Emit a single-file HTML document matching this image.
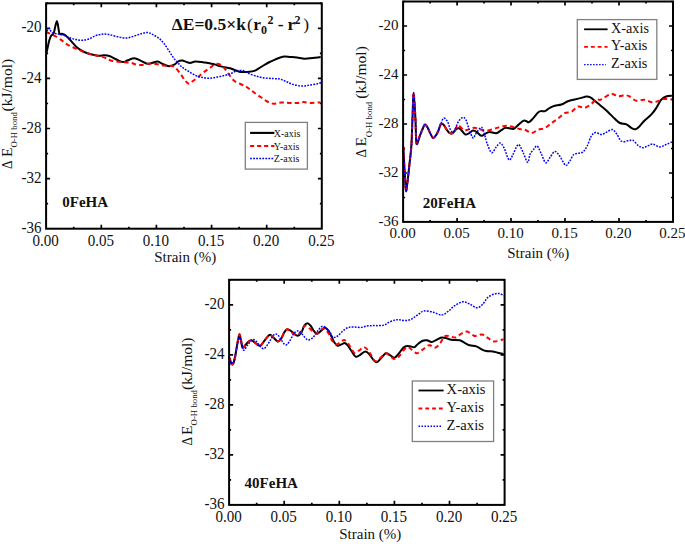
<!DOCTYPE html>
<html><head><meta charset="utf-8"><style>
html,body{margin:0;padding:0;background:#fff;}
svg{display:block;}
text{font-family:"Liberation Serif", serif;fill:#111;}
</style></head><body>
<svg width="685" height="544" viewBox="0 0 685 544" font-size="14">
<rect width="685" height="544" fill="#fff"/>
<path d="M73.7,228.7v-2.0M73.7,3.3v2.0M101.3,228.7v-4.0M101.3,3.3v4.0M128.9,228.7v-2.0M128.9,3.3v2.0M156.4,228.7v-4.0M156.4,3.3v4.0M184.0,228.7v-2.0M184.0,3.3v2.0M211.6,228.7v-4.0M211.6,3.3v4.0M239.1,228.7v-2.0M239.1,3.3v2.0M266.7,228.7v-4.0M266.7,3.3v4.0M294.3,228.7v-2.0M294.3,3.3v2.0M46.1,203.7h2.0M321.9,203.7h-2.0M46.1,178.6h4.0M321.9,178.6h-4.0M46.1,153.6h2.0M321.9,153.6h-2.0M46.1,128.5h4.0M321.9,128.5h-4.0M46.1,103.5h2.0M321.9,103.5h-2.0M46.1,78.4h4.0M321.9,78.4h-4.0M46.1,53.4h2.0M321.9,53.4h-2.0M46.1,28.3h4.0M321.9,28.3h-4.0M46.1,3.3h2.0M321.9,3.3h-2.0" stroke="#000" stroke-width="1.7" fill="none"/>
<path d="M46.6,52.5 C47.0,50.6 48.4,43.7 49.1,40.9 C49.9,38.1 50.3,37.0 51.1,35.7 C51.9,34.4 52.7,35.7 53.7,33.2 C54.7,30.7 56.0,20.9 56.9,20.9 C57.8,20.9 58.5,31.1 59.4,33.2 C60.2,35.4 60.9,33.4 62.0,33.8 C63.1,34.2 64.4,34.5 65.9,35.7 C67.4,36.9 69.3,39.1 71.0,40.9 C72.7,42.7 74.3,45.0 76.2,46.7 C78.1,48.4 80.5,50.0 82.6,51.2 C84.7,52.4 86.4,53.0 89.0,53.8 C91.6,54.5 95.4,55.5 98.0,55.7 C100.6,56.0 102.5,55.2 104.5,55.3 C106.5,55.4 108.0,55.6 110.0,56.3 C112.0,57.0 114.2,58.5 116.4,59.5 C118.6,60.5 121.0,62.0 122.9,62.1 C124.8,62.2 126.1,60.8 128.0,60.2 C129.9,59.6 132.2,58.2 134.4,58.3 C136.6,58.4 138.8,59.9 140.9,60.8 C143.1,61.7 145.4,63.5 147.3,63.8 C149.2,64.1 150.8,63.2 152.5,62.8 C154.2,62.4 155.9,61.3 157.6,61.5 C159.3,61.7 160.9,63.2 162.8,64.0 C164.7,64.8 167.3,66.1 169.2,66.2 C171.1,66.3 172.7,65.5 174.3,64.7 C175.9,63.9 177.2,61.9 178.6,61.2 C179.9,60.5 181.1,60.5 182.4,60.6 C183.7,60.7 185.0,61.5 186.3,61.9 C187.6,62.3 188.7,62.9 190.2,62.9 C191.7,62.9 193.4,61.7 195.3,61.6 C197.2,61.5 199.3,61.8 201.7,62.1 C204.0,62.4 207.2,62.8 209.4,63.2 C211.6,63.6 212.7,63.9 214.6,64.4 C216.5,64.9 218.4,65.8 221.0,66.4 C223.6,67.1 227.6,67.7 230.0,68.3 C232.4,68.9 233.5,69.6 235.2,70.2 C236.9,70.8 238.2,71.6 240.3,71.9 C242.4,72.2 245.7,72.1 248.0,71.9 C250.3,71.7 252.2,71.7 254.4,70.9 C256.6,70.1 258.5,68.4 260.9,67.0 C263.3,65.6 266.2,63.7 268.6,62.5 C271.0,61.3 272.6,60.6 275.0,59.6 C277.4,58.6 280.1,57.1 282.7,56.7 C285.3,56.3 288.1,56.9 290.5,57.0 C292.9,57.1 294.5,57.1 296.9,57.4 C299.2,57.7 302.0,58.6 304.6,58.7 C307.2,58.8 309.6,58.3 312.3,58.0 C315.0,57.7 319.3,57.2 320.7,57.0" stroke="#000" stroke-width="2" fill="none" stroke-linejoin="round"/>
<path d="M45.9,32.5 C46.4,32.6 47.3,32.5 49.1,33.2 C50.9,34.0 54.5,35.6 56.9,37.0 C59.3,38.4 61.2,40.0 63.3,41.5 C65.4,43.0 67.3,44.7 69.7,46.0 C72.1,47.3 74.9,48.1 77.5,49.2 C80.1,50.3 82.2,51.5 85.2,52.5 C88.2,53.5 92.3,54.4 95.5,55.3 C98.7,56.1 102.1,56.8 104.5,57.6 C106.9,58.4 108.0,59.6 110.0,60.2 C112.0,60.9 114.2,61.2 116.4,61.5 C118.6,61.8 120.5,61.9 122.9,62.1 C125.3,62.3 128.2,62.4 130.6,62.8 C132.9,63.2 134.8,64.4 137.0,64.7 C139.2,65.0 141.3,64.9 143.5,64.7 C145.7,64.5 147.8,63.5 149.9,63.4 C152.0,63.3 154.0,63.6 156.3,64.0 C158.7,64.4 161.4,65.3 164.0,65.6 C166.6,65.9 169.9,65.6 171.8,66.0 C173.7,66.4 174.1,66.5 175.6,67.9 C177.1,69.4 179.5,72.6 181.1,74.7 C182.7,76.8 183.7,79.0 185.0,80.5 C186.3,82.0 187.6,83.6 188.9,83.7 C190.2,83.8 191.2,82.3 192.7,81.2 C194.2,80.1 196.2,78.7 197.9,77.3 C199.6,75.9 201.1,74.3 203.0,72.8 C204.9,71.3 207.2,69.8 209.4,68.3 C211.6,66.8 214.0,64.3 215.9,63.8 C217.8,63.3 219.5,64.2 221.0,65.1 C222.5,65.9 223.6,67.4 224.9,68.9 C226.2,70.4 227.2,72.2 228.7,74.1 C230.2,76.0 232.0,78.8 233.9,80.5 C235.8,82.2 238.4,83.0 240.3,84.0 C242.2,85.0 244.0,85.5 245.5,86.3 C247.0,87.1 247.8,87.8 249.3,88.9 C250.8,90.0 252.5,91.3 254.4,92.7 C256.3,94.1 258.8,95.7 260.9,97.2 C263.0,98.7 265.2,100.4 267.3,101.5 C269.4,102.6 271.4,103.5 273.7,103.7 C276.0,103.9 278.8,102.5 281.4,102.4 C284.0,102.3 286.6,102.9 289.2,103.0 C291.8,103.1 294.5,103.2 296.9,103.0 C299.2,102.8 300.9,102.1 303.3,102.1 C305.7,102.1 308.1,103.0 311.0,103.0 C313.9,103.0 318.9,102.5 320.5,102.4" stroke="#ff0000" stroke-width="2" fill="none" stroke-linejoin="round" stroke-dasharray="4.5 3.2"/>
<path d="M45.9,34.4 C46.2,33.5 47.2,30.2 47.9,29.3 C48.5,28.4 49.2,28.2 49.8,28.7 C50.4,29.2 50.5,31.6 51.7,32.5 C52.9,33.4 55.0,33.4 56.9,33.8 C58.8,34.2 61.2,34.5 63.3,35.1 C65.4,35.8 67.5,37.0 69.7,37.7 C71.9,38.5 74.1,39.2 76.2,39.6 C78.3,40.0 80.5,40.3 82.6,40.2 C84.7,40.1 86.8,39.8 89.0,39.0 C91.2,38.2 93.3,36.5 95.5,35.7 C97.7,34.9 99.8,34.4 101.9,34.2 C104.0,34.0 105.9,34.0 108.3,34.4 C110.7,34.8 113.6,35.8 116.4,36.4 C119.2,37.0 122.6,38.1 125.4,38.1 C128.2,38.1 130.6,37.1 133.2,36.4 C135.8,35.7 138.6,34.4 140.9,33.8 C143.2,33.1 145.4,32.4 147.3,32.5 C149.2,32.6 150.6,33.4 152.5,34.4 C154.4,35.4 157.0,36.8 158.9,38.3 C160.8,39.8 162.3,41.4 164.0,43.5 C165.7,45.6 167.5,48.6 169.2,51.2 C170.9,53.8 172.5,56.6 174.3,58.9 C176.1,61.2 178.3,63.5 179.9,65.1 C181.5,66.7 182.2,67.2 183.7,68.3 C185.2,69.4 187.0,70.3 188.9,71.5 C190.8,72.7 193.2,74.4 195.3,75.4 C197.4,76.4 199.3,76.8 201.7,77.3 C204.0,77.8 206.8,78.3 209.4,78.3 C212.0,78.3 214.6,77.6 217.2,77.1 C219.8,76.6 222.6,76.0 224.9,75.4 C227.2,74.8 229.4,74.2 231.3,73.4 C233.2,72.7 234.6,71.4 236.5,70.9 C238.4,70.4 241.0,70.2 242.9,70.6 C244.8,71.0 245.9,72.3 248.0,73.2 C250.1,74.1 252.9,75.2 255.7,76.0 C258.5,76.8 261.7,77.6 264.7,78.0 C267.7,78.4 271.1,78.4 273.7,78.6 C276.3,78.8 278.0,78.7 280.2,79.2 C282.4,79.7 284.5,80.9 286.6,81.8 C288.7,82.7 290.4,83.7 293.0,84.4 C295.6,85.1 299.2,86.0 302.0,86.1 C304.8,86.2 307.2,85.4 309.8,85.0 C312.4,84.6 315.6,84.1 317.5,83.7 C319.4,83.3 320.7,82.7 321.3,82.5" stroke="#0000ff" stroke-width="1.5" fill="none" stroke-linejoin="round" stroke-dasharray="1.8 1.25"/>
<rect x="46.1" y="3.3" width="275.7" height="225.4" stroke="#000" stroke-width="2" fill="none"/>
<text transform="translate(41.55,32.44) scale(0.94,1)" text-anchor="end" font-size="16">-20</text>
<text transform="translate(41.55,82.53) scale(0.94,1)" text-anchor="end" font-size="16">-24</text>
<text transform="translate(41.55,132.62) scale(0.94,1)" text-anchor="end" font-size="16">-28</text>
<text transform="translate(41.55,182.71) scale(0.94,1)" text-anchor="end" font-size="16">-32</text>
<text transform="translate(41.55,232.80) scale(0.94,1)" text-anchor="end" font-size="16">-36</text>
<text transform="translate(45.65,245.90) scale(0.94,1)" text-anchor="middle" font-size="16">0.00</text>
<text transform="translate(100.79,245.90) scale(0.94,1)" text-anchor="middle" font-size="16">0.05</text>
<text transform="translate(155.93,245.90) scale(0.94,1)" text-anchor="middle" font-size="16">0.10</text>
<text transform="translate(211.07,245.90) scale(0.94,1)" text-anchor="middle" font-size="16">0.15</text>
<text transform="translate(266.21,245.90) scale(0.94,1)" text-anchor="middle" font-size="16">0.20</text>
<text transform="translate(321.35,245.90) scale(0.94,1)" text-anchor="middle" font-size="16">0.25</text>
<path d="M430.1,221.9v-2.0M430.1,1.5v2.0M457.1,221.9v-4.0M457.1,1.5v4.0M484.1,221.9v-2.0M484.1,1.5v2.0M511.0,221.9v-4.0M511.0,1.5v4.0M538.0,221.9v-2.0M538.0,1.5v2.0M565.0,221.9v-4.0M565.0,1.5v4.0M592.0,221.9v-2.0M592.0,1.5v2.0M619.0,221.9v-4.0M619.0,1.5v4.0M646.0,221.9v-2.0M646.0,1.5v2.0M403.1,197.5h2.0M673.0,197.5h-2.0M403.1,173.0h4.0M673.0,173.0h-4.0M403.1,148.5h2.0M673.0,148.5h-2.0M403.1,124.0h4.0M673.0,124.0h-4.0M403.1,99.5h2.0M673.0,99.5h-2.0M403.1,75.0h4.0M673.0,75.0h-4.0M403.1,50.5h2.0M673.0,50.5h-2.0M403.1,26.0h4.0M673.0,26.0h-4.0M403.1,1.5h2.0M673.0,1.5h-2.0" stroke="#000" stroke-width="1.7" fill="none"/>
<path d="M403.2,146.6 C403.4,149.2 403.8,156.7 404.1,162.0 C404.4,167.3 404.8,173.7 405.1,178.6 C405.4,183.5 405.6,191.6 406.1,191.6 C406.6,191.6 407.3,183.5 407.9,178.6 C408.5,173.7 409.1,167.5 409.7,162.0 C410.3,156.5 410.9,152.8 411.4,145.5 C411.9,138.2 412.1,126.8 412.5,118.0 C412.9,109.2 413.1,92.7 413.6,92.7 C414.1,92.7 414.9,109.6 415.4,118.1 C415.9,126.6 415.8,140.6 416.5,143.5 C417.2,146.4 419.0,137.9 419.9,135.7 C420.8,133.5 421.3,132.0 422.1,130.2 C422.9,128.4 423.9,125.2 424.8,124.7 C425.7,124.2 426.8,126.2 427.6,127.5 C428.4,128.8 428.9,130.7 429.8,132.4 C430.7,134.1 432.0,137.5 433.1,137.9 C434.2,138.3 435.5,135.9 436.4,134.6 C437.3,133.3 437.9,131.9 438.6,130.2 C439.3,128.5 440.0,125.1 440.8,124.2 C441.6,123.3 442.7,123.9 443.6,124.7 C444.5,125.5 445.3,127.7 446.3,129.1 C447.3,130.5 448.5,132.3 449.6,133.0 C450.7,133.7 451.8,133.7 452.9,133.0 C454.0,132.3 455.2,129.9 456.2,129.1 C457.2,128.3 458.1,128.0 459.0,128.2 C459.9,128.4 460.3,129.1 461.4,130.2 C462.4,131.2 464.0,134.0 465.3,134.5 C466.6,135.0 467.9,133.8 469.2,133.2 C470.5,132.5 471.7,130.8 473.0,130.6 C474.3,130.4 475.5,131.3 476.9,132.2 C478.3,133.1 479.9,135.6 481.4,135.8 C482.9,136.0 484.5,134.1 485.9,133.4 C487.3,132.8 488.0,131.9 489.7,131.9 C491.4,131.9 494.3,133.5 496.2,133.2 C498.1,132.9 499.7,131.1 501.3,130.2 C502.9,129.3 503.8,127.9 505.8,127.7 C507.8,127.5 511.5,129.3 513.5,128.9 C515.5,128.5 516.4,126.4 518.0,125.1 C519.6,123.8 521.9,121.5 523.2,120.8 C524.5,120.1 525.0,120.8 526.0,121.0 C527.0,121.2 527.9,122.7 529.1,122.2 C530.3,121.7 531.9,119.6 533.3,118.1 C534.7,116.6 536.2,114.3 537.4,113.1 C538.6,111.9 539.5,111.4 540.7,111.1 C542.0,110.8 543.4,111.6 544.9,111.1 C546.4,110.5 548.1,108.7 549.8,107.8 C551.4,106.9 552.9,106.2 554.8,105.7 C556.7,105.2 559.2,105.2 561.4,104.5 C563.6,103.8 565.8,102.0 568.0,101.2 C570.2,100.4 572.5,100.0 574.7,99.5 C576.9,99.0 579.4,98.4 581.3,97.9 C583.2,97.4 584.8,96.7 586.3,96.6 C587.8,96.5 588.9,96.7 590.4,97.4 C591.9,98.1 593.1,99.5 595.0,101.0 C596.9,102.5 599.4,104.5 601.6,106.4 C603.8,108.3 606.0,110.1 608.2,112.2 C610.4,114.3 612.9,117.0 614.8,118.8 C616.7,120.6 617.9,122.1 619.8,123.0 C621.7,123.9 624.5,123.5 626.4,124.3 C628.3,125.1 629.9,127.1 631.4,127.9 C632.9,128.7 634.1,129.6 635.5,129.3 C636.9,129.0 638.1,127.8 639.6,126.3 C641.1,124.8 642.7,122.4 644.6,120.5 C646.5,118.6 649.3,116.8 651.2,114.7 C653.1,112.6 654.6,110.6 656.2,108.1 C657.9,105.6 659.5,101.7 661.1,99.8 C662.8,97.9 664.3,97.2 666.1,96.5 C667.9,95.8 670.9,95.8 671.9,95.7" stroke="#000" stroke-width="2" fill="none" stroke-linejoin="round"/>
<path d="M403.2,146.6 C403.4,149.2 403.8,156.7 404.1,162.0 C404.4,167.3 404.8,173.7 405.1,178.6 C405.4,183.5 405.6,191.6 406.1,191.6 C406.6,191.6 407.3,183.5 407.9,178.6 C408.5,173.7 409.1,167.5 409.7,162.0 C410.3,156.5 410.9,152.8 411.4,145.5 C411.9,138.2 412.1,126.8 412.5,118.0 C412.9,109.2 413.1,92.7 413.6,92.7 C414.1,92.7 414.9,109.6 415.4,118.1 C415.9,126.6 415.8,140.6 416.5,143.5 C417.2,146.4 419.0,137.9 419.9,135.7 C420.8,133.5 421.3,132.0 422.1,130.2 C422.9,128.4 423.9,125.2 424.8,124.7 C425.7,124.2 426.8,126.2 427.6,127.5 C428.4,128.8 428.9,130.7 429.8,132.4 C430.7,134.1 432.0,137.5 433.1,137.9 C434.2,138.3 435.5,135.9 436.4,134.6 C437.3,133.3 437.9,131.9 438.6,130.2 C439.3,128.5 440.0,125.1 440.8,124.2 C441.6,123.3 442.7,123.9 443.6,124.7 C444.5,125.5 445.3,127.7 446.3,129.1 C447.3,130.5 448.5,132.3 449.6,133.0 C450.7,133.7 451.6,134.2 452.9,133.0 C454.2,131.8 456.3,127.0 457.3,125.8 C458.3,124.6 457.8,125.0 458.9,125.7 C460.0,126.4 462.5,129.5 464.0,130.2 C465.5,130.8 466.2,130.0 467.9,129.6 C469.6,129.2 472.2,127.7 474.3,127.7 C476.4,127.7 478.8,129.1 480.7,129.6 C482.6,130.1 483.8,131.0 485.9,130.9 C488.0,130.8 491.2,129.6 493.6,128.9 C496.0,128.2 497.9,127.5 500.0,127.0 C502.1,126.5 504.4,125.7 506.5,125.7 C508.6,125.7 510.8,126.5 512.9,127.0 C515.0,127.5 517.3,128.5 519.3,128.9 C521.3,129.3 523.0,129.0 525.0,129.7 C527.0,130.4 529.4,133.0 531.6,133.0 C533.8,133.0 536.0,130.5 538.2,129.7 C540.4,128.9 542.7,129.1 544.9,128.0 C547.1,126.9 549.3,124.6 551.5,123.0 C553.7,121.4 555.9,120.1 558.1,118.4 C560.3,116.8 562.5,114.2 564.7,113.1 C566.9,112.0 569.2,112.9 571.4,111.8 C573.6,110.7 575.8,107.2 578.0,106.5 C580.2,105.8 582.4,108.2 584.6,107.8 C586.8,107.4 589.3,105.4 591.2,104.0 C593.1,102.6 594.7,100.2 596.2,99.5 C597.7,98.8 598.8,100.1 600.0,99.9 C601.2,99.7 601.4,99.2 603.3,98.2 C605.2,97.2 609.0,94.3 611.5,94.0 C614.0,93.7 615.9,96.0 618.1,96.2 C620.3,96.4 622.9,95.2 624.8,95.2 C626.7,95.2 627.8,95.6 629.7,96.5 C631.6,97.4 633.8,100.2 636.3,100.7 C638.8,101.2 642.0,99.5 644.6,99.8 C647.2,100.1 649.8,102.1 652.0,102.3 C654.2,102.5 656.0,101.8 657.8,101.2 C659.6,100.7 660.4,99.3 662.8,99.0 C665.1,98.7 670.4,99.4 671.9,99.5" stroke="#ff0000" stroke-width="2" fill="none" stroke-linejoin="round" stroke-dasharray="4.5 3.2"/>
<path d="M403.2,146.6 C403.4,149.2 403.8,156.7 404.1,162.0 C404.4,167.3 404.8,173.7 405.1,178.6 C405.4,183.5 405.6,191.6 406.1,191.6 C406.6,191.6 407.3,183.5 407.9,178.6 C408.5,173.7 409.1,167.5 409.7,162.0 C410.3,156.5 410.9,152.8 411.4,145.5 C411.9,138.2 412.1,126.8 412.5,118.0 C412.9,109.2 413.1,92.7 413.6,92.7 C414.1,92.7 414.9,109.6 415.4,118.1 C415.9,126.6 415.8,140.6 416.5,143.5 C417.2,146.4 419.0,137.9 419.9,135.7 C420.8,133.5 421.3,132.0 422.1,130.2 C422.9,128.4 423.9,125.2 424.8,124.7 C425.7,124.2 426.8,126.2 427.6,127.5 C428.4,128.8 428.9,130.7 429.8,132.4 C430.7,134.1 432.0,137.5 433.1,137.9 C434.2,138.3 435.5,135.9 436.4,134.6 C437.3,133.3 437.9,131.9 438.6,130.2 C439.3,128.5 440.0,126.2 440.8,124.2 C441.6,122.2 442.5,118.6 443.6,118.1 C444.7,117.6 446.2,119.4 447.4,121.4 C448.6,123.4 449.6,128.5 450.7,130.2 C451.8,131.8 452.7,132.8 454.0,131.3 C455.3,129.8 457.1,123.7 458.5,121.4 C459.9,119.1 461.5,117.7 462.7,117.4 C463.9,117.2 464.8,117.9 465.9,119.9 C467.0,121.9 468.0,126.6 469.2,129.6 C470.4,132.6 471.9,137.2 473.0,138.0 C474.1,138.8 474.5,135.6 475.6,134.1 C476.7,132.6 478.3,130.0 479.4,128.9 C480.5,127.8 481.1,126.7 482.0,127.7 C482.9,128.7 483.7,132.0 484.6,134.7 C485.5,137.4 486.0,140.7 487.2,143.7 C488.4,146.7 490.2,152.1 491.7,152.7 C493.2,153.2 494.8,148.6 496.2,147.0 C497.6,145.4 498.7,143.0 500.0,143.1 C501.3,143.2 502.4,144.8 503.9,147.6 C505.4,150.4 507.5,158.6 509.0,159.8 C510.5,161.0 511.6,156.9 512.9,154.7 C514.2,152.4 515.7,147.9 516.8,146.3 C517.9,144.7 518.2,143.9 519.3,145.0 C520.4,146.1 521.8,149.8 523.2,152.7 C524.6,155.6 526.6,162.1 527.7,162.4 C528.8,162.7 528.9,156.8 530.0,154.5 C531.1,152.2 532.9,150.1 534.1,148.7 C535.3,147.3 536.1,145.2 537.4,146.2 C538.6,147.2 540.2,151.7 541.6,154.5 C543.0,157.3 544.3,162.2 545.7,162.8 C547.1,163.4 548.3,159.7 549.8,157.8 C551.3,155.9 553.1,151.8 554.8,151.5 C556.5,151.2 558.0,153.9 559.8,156.2 C561.6,158.5 564.0,164.5 565.6,165.3 C567.2,166.1 568.3,162.9 569.7,161.1 C571.1,159.3 572.3,155.8 573.8,154.5 C575.3,153.2 577.3,153.6 578.8,153.2 C580.3,152.8 581.6,153.2 583.0,152.0 C584.4,150.8 585.7,148.8 587.1,146.2 C588.5,143.6 589.8,138.6 591.2,136.3 C592.6,134.0 593.7,132.9 595.4,132.6 C597.1,132.3 599.7,134.6 601.6,134.5 C603.5,134.4 604.8,132.9 606.6,132.1 C608.4,131.3 610.8,129.3 612.4,129.6 C614.0,129.9 615.0,131.8 616.5,133.7 C618.0,135.6 619.5,140.0 621.4,141.2 C623.3,142.4 626.2,141.0 628.1,140.8 C630.0,140.7 631.4,139.6 633.0,140.3 C634.6,141.1 636.3,144.1 638.0,145.3 C639.7,146.6 641.4,147.7 643.0,147.8 C644.6,147.9 646.2,146.4 647.9,145.8 C649.5,145.2 651.0,143.9 652.9,144.1 C654.8,144.3 657.3,146.8 659.5,146.9 C661.7,147.0 664.0,145.3 666.1,144.5 C668.2,143.7 670.9,142.4 671.9,142.0" stroke="#0000ff" stroke-width="1.5" fill="none" stroke-linejoin="round" stroke-dasharray="1.8 1.25"/>
<rect x="403.1" y="1.5" width="269.9" height="220.4" stroke="#000" stroke-width="2" fill="none"/>
<text transform="translate(398.50,30.29) scale(1,1)" text-anchor="end" font-size="15">-20</text>
<text transform="translate(398.50,79.28) scale(1,1)" text-anchor="end" font-size="15">-24</text>
<text transform="translate(398.50,128.27) scale(1,1)" text-anchor="end" font-size="15">-28</text>
<text transform="translate(398.50,177.26) scale(1,1)" text-anchor="end" font-size="15">-32</text>
<text transform="translate(398.50,226.25) scale(1,1)" text-anchor="end" font-size="15">-36</text>
<text transform="translate(402.60,237.95) scale(1,1)" text-anchor="middle" font-size="15">0.00</text>
<text transform="translate(456.57,237.95) scale(1,1)" text-anchor="middle" font-size="15">0.05</text>
<text transform="translate(510.54,237.95) scale(1,1)" text-anchor="middle" font-size="15">0.10</text>
<text transform="translate(564.51,237.95) scale(1,1)" text-anchor="middle" font-size="15">0.15</text>
<text transform="translate(618.48,237.95) scale(1,1)" text-anchor="middle" font-size="15">0.20</text>
<text transform="translate(672.45,237.95) scale(1,1)" text-anchor="middle" font-size="15">0.25</text>
<path d="M256.7,504.8v-2.0M256.7,279.8v2.0M284.2,504.8v-4.0M284.2,279.8v4.0M311.8,504.8v-2.0M311.8,279.8v2.0M339.3,504.8v-4.0M339.3,279.8v4.0M366.9,504.8v-2.0M366.9,279.8v2.0M394.4,504.8v-4.0M394.4,279.8v4.0M422.0,504.8v-2.0M422.0,279.8v2.0M449.5,504.8v-4.0M449.5,279.8v4.0M477.1,504.8v-2.0M477.1,279.8v2.0M229.1,479.8h2.0M504.6,479.8h-2.0M229.1,454.8h4.0M504.6,454.8h-4.0M229.1,429.8h2.0M504.6,429.8h-2.0M229.1,404.8h4.0M504.6,404.8h-4.0M229.1,379.8h2.0M504.6,379.8h-2.0M229.1,354.8h4.0M504.6,354.8h-4.0M229.1,329.8h2.0M504.6,329.8h-2.0M229.1,304.8h4.0M504.6,304.8h-4.0M229.1,279.8h2.0M504.6,279.8h-2.0" stroke="#000" stroke-width="1.7" fill="none"/>
<path d="M228.8,356.3 C229.1,357.0 229.9,359.3 230.4,360.7 C230.9,362.1 231.4,364.6 232.1,364.6 C232.8,364.6 233.6,363.4 234.3,360.7 C235.0,358.0 235.9,352.1 236.5,348.6 C237.1,345.1 237.6,342.2 238.1,339.8 C238.6,337.4 239.0,334.3 239.5,334.3 C240.0,334.3 240.4,337.6 240.9,339.8 C241.4,342.0 241.8,346.6 242.5,347.5 C243.2,348.4 244.4,346.2 245.3,345.3 C246.2,344.4 247.0,342.8 248.0,342.0 C249.0,341.2 250.3,340.2 251.4,340.3 C252.5,340.4 253.6,341.7 254.7,342.5 C255.8,343.3 257.0,344.6 258.0,345.1 C259.0,345.6 259.8,346.0 260.7,345.5 C261.6,345.0 262.5,343.3 263.5,342.0 C264.5,340.7 265.7,338.8 266.8,337.6 C267.9,336.4 269.0,334.8 270.1,334.8 C271.2,334.8 272.1,336.5 273.4,337.6 C274.7,338.7 276.5,341.2 277.8,341.4 C279.1,341.6 280.0,340.2 281.1,338.7 C282.2,337.1 283.4,333.7 284.4,332.1 C285.4,330.5 286.1,329.5 287.2,329.3 C288.3,329.1 289.9,330.3 291.0,331.0 C292.1,331.7 292.8,332.7 293.9,333.5 C295.0,334.3 296.4,336.0 297.7,335.8 C299.0,335.6 300.5,333.9 301.6,332.2 C302.7,330.5 303.2,327.2 304.2,325.7 C305.2,324.2 306.3,323.2 307.4,323.2 C308.5,323.2 309.5,324.4 310.6,325.7 C311.7,327.0 312.7,329.6 313.8,330.9 C314.9,332.2 315.8,333.7 317.0,333.7 C318.2,333.7 319.6,331.9 320.9,330.9 C322.2,329.9 323.5,327.8 324.7,327.7 C325.9,327.6 326.9,328.8 328.0,330.2 C329.1,331.6 330.1,333.9 331.2,336.0 C332.3,338.1 333.3,340.9 334.4,342.5 C335.5,344.1 336.4,345.4 337.6,345.7 C338.8,346.0 340.3,344.8 341.5,344.4 C342.7,344.0 343.6,342.9 344.7,343.1 C345.8,343.3 346.7,344.3 347.9,345.7 C349.1,347.1 350.5,349.7 351.8,351.5 C353.1,353.3 354.3,356.0 355.6,356.6 C356.9,357.2 357.8,356.2 359.4,355.4 C361.0,354.5 363.6,351.6 365.3,351.5 C367.0,351.4 368.4,353.3 369.7,354.7 C371.0,356.1 372.2,358.7 373.4,359.9 C374.6,361.1 375.8,362.5 377.1,362.1 C378.5,361.7 380.0,359.1 381.5,357.6 C383.0,356.1 384.4,353.6 385.9,353.2 C387.4,352.8 388.8,354.7 390.3,355.4 C391.8,356.1 393.2,358.0 394.7,357.6 C396.2,357.2 397.6,354.9 399.1,353.2 C400.6,351.5 402.1,348.6 403.5,347.4 C404.9,346.2 406.0,346.0 407.2,345.9 C408.4,345.8 409.7,346.4 410.9,346.6 C412.1,346.8 413.4,347.6 414.6,347.1 C415.8,346.6 416.9,344.8 418.2,343.7 C419.5,342.6 421.1,341.3 422.6,340.7 C424.1,340.1 425.6,340.1 427.1,340.3 C428.6,340.5 430.0,342.1 431.6,342.0 C433.2,341.9 435.0,340.6 436.6,339.8 C438.2,339.1 439.9,337.8 441.5,337.5 C443.1,337.2 444.9,337.8 446.5,338.2 C448.1,338.6 449.2,339.4 451.4,339.8 C453.6,340.2 457.5,339.8 459.7,340.3 C461.9,340.8 463.0,342.0 464.7,342.8 C466.4,343.6 467.7,344.7 469.6,345.3 C471.5,345.9 474.3,345.8 476.2,346.4 C478.1,347.0 479.5,348.3 481.2,349.1 C482.9,349.9 484.3,350.7 486.2,351.1 C488.1,351.5 490.9,351.1 492.8,351.4 C494.7,351.7 495.9,352.3 497.7,352.7 C499.5,353.1 502.5,353.8 503.5,354.0" stroke="#000" stroke-width="2" fill="none" stroke-linejoin="round"/>
<path d="M228.8,356.3 C229.1,357.0 229.9,359.3 230.4,360.7 C230.9,362.1 231.4,364.6 232.1,364.6 C232.8,364.6 233.6,363.4 234.3,360.7 C235.0,358.0 235.9,352.1 236.5,348.6 C237.1,345.1 237.6,342.2 238.1,339.8 C238.6,337.4 239.0,334.3 239.5,334.3 C240.0,334.3 240.4,337.6 240.9,339.8 C241.4,342.0 241.8,346.6 242.5,347.5 C243.2,348.4 244.4,346.2 245.3,345.3 C246.2,344.4 247.0,342.8 248.0,342.0 C249.0,341.2 250.3,340.2 251.4,340.3 C252.5,340.4 253.6,341.7 254.7,342.5 C255.8,343.3 257.0,344.6 258.0,345.1 C259.0,345.6 259.8,346.0 260.7,345.5 C261.6,345.0 262.5,343.3 263.5,342.0 C264.5,340.7 265.7,338.8 266.8,337.6 C267.9,336.4 269.0,334.8 270.1,334.8 C271.2,334.8 272.1,336.5 273.4,337.6 C274.7,338.7 276.5,341.2 277.8,341.4 C279.1,341.6 280.0,340.2 281.1,338.7 C282.2,337.1 283.4,333.7 284.4,332.1 C285.4,330.5 286.3,329.5 287.2,329.3 C288.1,329.1 288.9,330.1 290.0,330.9 C291.1,331.7 292.6,333.5 293.9,334.1 C295.2,334.7 296.4,335.2 297.7,334.7 C299.0,334.2 300.4,332.4 301.6,330.9 C302.8,329.4 303.5,326.1 304.8,325.7 C306.1,325.3 307.7,327.1 309.3,328.3 C310.9,329.5 313.0,331.9 314.4,332.8 C315.8,333.7 316.4,334.1 317.7,333.5 C319.0,332.9 321.0,329.8 322.2,329.0 C323.4,328.2 323.6,328.2 324.7,329.0 C325.8,329.8 327.3,331.5 328.6,333.5 C329.9,335.5 331.2,339.4 332.5,341.2 C333.8,343.0 334.9,344.3 336.3,344.4 C337.7,344.5 339.4,342.5 340.8,341.8 C342.2,341.1 343.3,339.6 344.7,340.1 C346.1,340.6 347.6,342.9 349.2,345.0 C350.8,347.1 352.6,351.9 354.3,352.8 C356.0,353.7 357.8,351.2 359.4,350.3 C361.0,349.4 362.3,347.1 363.8,347.1 C365.3,347.1 367.0,348.9 368.2,350.3 C369.4,351.7 370.0,353.6 371.2,355.4 C372.4,357.2 373.9,361.1 375.6,361.3 C377.3,361.6 379.8,358.2 381.5,356.9 C383.2,355.5 384.4,353.3 385.9,353.2 C387.4,353.1 388.8,355.2 390.3,356.2 C391.8,357.2 393.2,359.1 394.7,359.1 C396.2,359.1 397.6,357.7 399.1,356.2 C400.6,354.7 402.0,351.8 403.5,350.3 C405.0,348.8 406.5,347.2 407.9,347.1 C409.2,347.0 410.1,348.6 411.6,349.6 C413.1,350.6 415.0,353.2 416.8,353.2 C418.6,353.2 420.9,350.8 422.6,349.6 C424.3,348.4 425.9,346.6 427.1,345.9 C428.3,345.2 428.7,345.0 430.0,345.3 C431.3,345.6 433.2,348.1 434.9,347.8 C436.5,347.5 438.2,345.5 439.9,343.6 C441.5,341.7 443.1,337.4 444.8,336.2 C446.5,335.0 448.0,336.0 449.8,336.2 C451.6,336.4 453.7,337.9 455.6,337.5 C457.5,337.1 459.5,334.7 461.4,333.7 C463.3,332.7 464.9,331.2 467.1,331.6 C469.3,332.0 472.1,335.4 474.6,335.9 C477.1,336.4 479.8,334.2 482.0,334.5 C484.2,334.8 485.7,336.7 487.8,337.9 C489.9,339.1 491.8,341.3 494.4,341.5 C497.0,341.7 502.0,339.6 503.5,339.2" stroke="#ff0000" stroke-width="2" fill="none" stroke-linejoin="round" stroke-dasharray="4.5 3.2"/>
<path d="M228.8,356.3 C229.2,357.6 230.5,363.8 231.5,364.0 C232.5,364.2 233.9,360.3 234.8,357.4 C235.7,354.5 236.3,349.7 237.0,346.4 C237.7,343.1 238.5,338.2 239.2,337.6 C239.9,337.1 240.7,341.0 241.4,343.1 C242.1,345.2 242.6,349.8 243.6,350.2 C244.6,350.6 246.0,347.0 247.5,345.3 C249.0,343.6 251.0,340.5 252.5,339.8 C254.0,339.1 255.0,340.3 256.3,341.4 C257.6,342.5 258.9,345.2 260.2,346.4 C261.5,347.6 262.7,349.0 264.0,348.6 C265.3,348.2 266.7,345.9 267.9,344.2 C269.1,342.5 270.1,340.3 271.2,338.7 C272.3,337.1 273.4,334.9 274.5,334.3 C275.6,333.7 276.7,333.9 277.8,334.8 C278.9,335.7 280.0,338.2 281.1,339.8 C282.2,341.4 283.4,343.4 284.4,344.2 C285.4,345.0 286.1,345.3 287.2,344.4 C288.3,343.5 289.9,340.5 291.0,338.7 C292.1,336.9 292.8,334.8 293.9,333.5 C295.0,332.2 296.4,330.9 297.7,330.9 C299.0,330.9 300.3,332.3 301.6,333.5 C302.9,334.7 304.2,336.9 305.4,338.0 C306.6,339.1 307.4,340.0 308.7,339.9 C310.0,339.8 311.7,338.8 313.2,337.3 C314.7,335.8 316.2,332.7 317.7,330.9 C319.2,329.1 320.8,326.9 322.2,326.4 C323.6,325.9 324.7,326.7 326.0,327.7 C327.3,328.7 328.7,330.6 329.9,332.2 C331.1,333.8 331.8,336.7 333.1,337.3 C334.4,337.9 336.2,336.9 337.6,336.0 C339.0,335.1 340.2,333.4 341.5,332.2 C342.8,331.0 344.0,329.8 345.3,329.0 C346.6,328.2 347.7,327.6 349.2,327.3 C350.7,327.0 352.4,327.0 354.3,327.0 C356.2,327.0 358.8,327.7 360.9,327.5 C363.0,327.3 364.9,326.3 366.8,326.0 C368.8,325.7 370.7,325.7 372.6,325.6 C374.6,325.5 376.5,325.7 378.5,325.6 C380.5,325.5 382.7,325.5 384.4,325.0 C386.1,324.5 387.1,323.2 388.8,322.4 C390.5,321.6 393.0,320.6 394.7,320.1 C396.4,319.7 397.4,319.6 399.1,319.7 C400.8,319.8 403.0,320.7 405.0,320.6 C407.0,320.6 409.2,320.1 410.9,319.4 C412.6,318.7 413.8,317.5 415.3,316.5 C416.8,315.5 418.2,314.4 419.7,313.5 C421.2,312.6 421.8,311.1 424.1,310.9 C426.4,310.7 430.4,311.5 433.3,312.2 C436.2,312.9 439.0,315.1 441.5,315.0 C444.0,314.9 445.9,313.0 448.1,311.4 C450.3,309.8 452.3,307.2 454.8,305.6 C457.3,304.0 460.5,302.1 463.0,301.8 C465.5,301.5 467.2,303.0 469.6,304.0 C472.0,305.0 474.9,307.8 477.1,307.8 C479.3,307.8 481.1,305.7 482.9,304.0 C484.7,302.3 485.9,299.1 487.8,297.4 C489.7,295.7 492.5,294.6 494.4,294.0 C496.3,293.4 497.8,293.3 499.4,293.6 C501.0,293.9 503.1,295.4 503.8,295.7" stroke="#0000ff" stroke-width="1.5" fill="none" stroke-linejoin="round" stroke-dasharray="1.8 1.25"/>
<rect x="229.1" y="279.8" width="275.5" height="225.1" stroke="#000" stroke-width="2" fill="none"/>
<text transform="translate(224.50,308.86) scale(0.94,1)" text-anchor="end" font-size="16">-20</text>
<text transform="translate(224.50,358.87) scale(0.94,1)" text-anchor="end" font-size="16">-24</text>
<text transform="translate(224.50,408.88) scale(0.94,1)" text-anchor="end" font-size="16">-28</text>
<text transform="translate(224.50,458.89) scale(0.94,1)" text-anchor="end" font-size="16">-32</text>
<text transform="translate(224.50,508.90) scale(0.94,1)" text-anchor="end" font-size="16">-36</text>
<text transform="translate(228.60,522.00) scale(0.94,1)" text-anchor="middle" font-size="16">0.00</text>
<text transform="translate(283.71,522.00) scale(0.94,1)" text-anchor="middle" font-size="16">0.05</text>
<text transform="translate(338.82,522.00) scale(0.94,1)" text-anchor="middle" font-size="16">0.10</text>
<text transform="translate(393.93,522.00) scale(0.94,1)" text-anchor="middle" font-size="16">0.15</text>
<text transform="translate(449.04,522.00) scale(0.94,1)" text-anchor="middle" font-size="16">0.20</text>
<text transform="translate(504.15,522.00) scale(0.94,1)" text-anchor="middle" font-size="16">0.25</text>
<rect x="245.3" y="122.4" width="62.1" height="46.7" fill="#fff" stroke="#808080" stroke-width="1.3"/>
<path d="M250.1,132.9H274.4" stroke="#000" stroke-width="2.1"/>
<text transform="translate(273.80,136.60) scale(0.91,1)" font-size="11">X-axis</text>
<path d="M250.1,146.0H274.4" stroke="#ff0000" stroke-width="2" stroke-dasharray="4.1 2.9"/>
<text transform="translate(273.80,149.70) scale(0.91,1)" font-size="11">Y-axis</text>
<path d="M250.1,158.4H274.4" stroke="#0000ff" stroke-width="1.5" stroke-dasharray="1.8 1.25"/>
<text transform="translate(273.80,162.10) scale(0.91,1)" font-size="11">Z-axis</text>
<rect x="577.3" y="19.6" width="79.5" height="59.8" fill="#fff" stroke="#808080" stroke-width="1.3"/>
<path d="M584.1,29.3H607.6" stroke="#000" stroke-width="1.8"/>
<text transform="translate(611.10,32.70) scale(1,1)" font-size="14.2">X-axis</text>
<path d="M584.1,46.9H607.6" stroke="#ff0000" stroke-width="1.9" stroke-dasharray="3.8 3"/>
<text transform="translate(611.10,50.30) scale(1,1)" font-size="14.2">Y-axis</text>
<path d="M584.1,64.6H605.8" stroke="#0000ff" stroke-width="1.4" stroke-dasharray="1.5 1.5"/>
<text transform="translate(611.10,68.00) scale(1,1)" font-size="14.2">Z-axis</text>
<rect x="412.3" y="381.0" width="81.3" height="60.5" fill="#fff" stroke="#808080" stroke-width="1.3"/>
<path d="M418.5,390.5H443.6" stroke="#000" stroke-width="1.8"/>
<text transform="translate(446.60,393.90) scale(1,1)" font-size="14.6">X-axis</text>
<path d="M418.5,408.5H443.6" stroke="#ff0000" stroke-width="1.9" stroke-dasharray="3.8 3"/>
<text transform="translate(446.60,411.90) scale(1,1)" font-size="14.6">Y-axis</text>
<path d="M418.5,426.2H441.5" stroke="#0000ff" stroke-width="1.4" stroke-dasharray="1.5 1.5"/>
<text transform="translate(446.60,429.60) scale(1,1)" font-size="14.6">Z-axis</text>
<g transform="translate(11.9,169.1) rotate(-90)"><text x="0.0" y="0" font-size="15.5" transform="scale(0.85,1)">&#916;</text><text x="12.2" y="0" font-size="15.5">E</text><text x="21.5" y="5.5" font-size="8.8">O-H bond</text><text x="57.7" y="0" font-size="15.5">(kJ/mol)</text></g>
<g transform="translate(366.2,157.6) rotate(-90)"><text x="0.0" y="0" font-size="15.5" transform="scale(0.85,1)">&#916;</text><text x="11.2" y="0" font-size="15.5">E</text><text x="20.4" y="5.5" font-size="8.8">O-H bond</text><text x="58.9" y="0" font-size="15.5">(kJ/mol)</text></g>
<g transform="translate(191.6,445.6) rotate(-90)"><text x="0.0" y="0" font-size="15.5" transform="scale(0.85,1)">&#916;</text><text x="10.6" y="0" font-size="15.5">E</text><text x="20.2" y="5.5" font-size="8.8">O-H bond</text><text x="55.6" y="0" font-size="15.5">(kJ/mol)</text></g>
<text x="185.2" y="262.2" text-anchor="middle" font-size="15">Strain (%)</text>
<text x="538.3" y="258.2" text-anchor="middle" font-size="15">Strain (%)</text>
<text x="370.3" y="539.4" text-anchor="middle" font-size="15">Strain (%)</text>
<text x="62.3" y="207.2" font-size="15" font-weight="bold">0FeHA</text>
<text x="422.7" y="207.5" font-size="15" font-weight="bold">20FeHA</text>
<text x="244.6" y="488.1" font-size="15" font-weight="bold">40FeHA</text>
<g font-size="17.5" font-weight="bold"><text x="171.74" y="29.6">&#916;E=0.5&#215;k</text><text x="247.1" y="29.6" font-weight="normal">(</text><text x="253.36" y="29.6">r</text><text x="261.12" y="33.8" font-size="12">0</text><text x="267.5" y="24.3" font-size="12">2</text><text x="277.7" y="29.6">-</text><text x="287.46" y="29.6">r</text><text x="294.5" y="24.1" font-size="12">2</text><text x="303.17" y="29.6" font-weight="normal">)</text></g>
</svg>
</body></html>
